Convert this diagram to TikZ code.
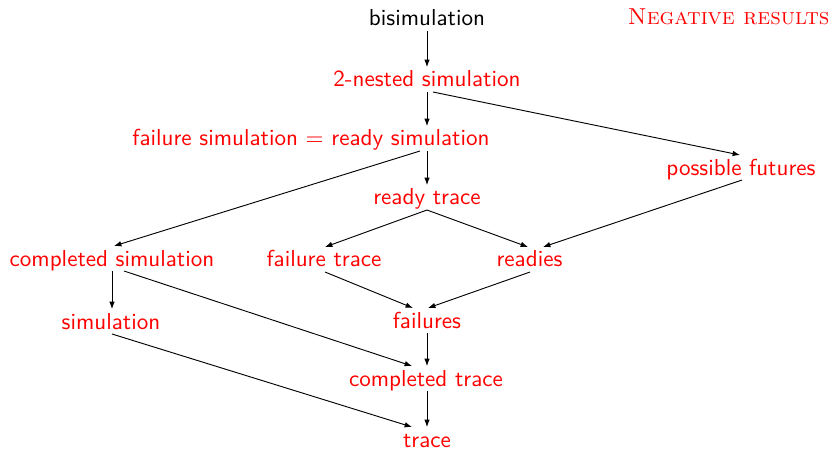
\documentclass[tikz,border=0pt]{standalone}
\usetikzlibrary{calc,arrows.meta}
\begin{document}
\begin{tikzpicture}[x=0.433pt,y=-0.433pt,
  lbl/.style={anchor=base,inner sep=0pt,outer sep=0pt,text height=8.66pt,text depth=2.17pt,font=\sffamily,text=red},
  arr/.style={-{Latex[length=3.2pt,width=2.4pt]},line width=0.4pt}]
\useasboundingbox (0,0) rectangle (832,450);
\node[lbl,text=black] (bis) at (427,26) {bisimulation};
\node[anchor=base east,inner sep=0pt,text=red] (neg) at (830,25) {\textsc{Negative results}};
\node[lbl] (nest) at (427,87) {2-nested simulation};
\node[lbl] (fs) at (311,146) {failure simulation $=$ ready simulation};
\node[lbl] (pf) at (741,175) {possible futures};
\node[lbl] (rt) at (427,205) {ready trace};
\node[lbl] (cs) at (112,266) {completed simulation};
\node[lbl] (ft) at (324,267) {failure trace};
\node[lbl] (rd) at (529.5,267) {readies};
\node[lbl] (sim) at (111,329) {simulation};
\node[lbl] (fl) at (427,328) {failures};
\node[lbl] (ct) at (426,386) {completed trace};
\node[lbl] (tr) at (427,447) {trace};

\draw[arr] (bis.south) -- (nest.north);
\draw[arr] (nest.south) -- ($(fs.north)+(116,0)$);
\draw[arr] ($(nest.south)+(6,0)$) -- ($(pf.north)+(-1,0)$);
\draw[arr] ($(fs.south)+(116,0)$) -- (rt.north);
\draw[arr] ($(fs.south)+(109,0)$) -- ($(cs.north)+(2,0)$);
\draw[arr] (rt.south) -- ($(ft.north)+(1,0)$);
\draw[arr] (rt.south) -- ($(rd.north)+(-1.5,0)$);
\draw[arr] ($(pf.south)+(1,0)$) -- ($(rd.north)+(13.5,0)$);
\draw[arr] (cs.south) -- (cs.south |- sim.north);
\draw[arr] ($(cs.south)+(12,0)$) -- ($(ct.north)+(-14,0)$);
\draw[arr] ($(ft.south)+(1,0)$) -- ($(fl.north)+(-14,0)$);
\draw[arr] ($(rd.south)+(0.5,0)$) -- ($(fl.north)+(1,0)$);
\draw[arr] (fl.south) -- (fl.south |- ct.north);
\draw[arr] ($(sim.south)+(1,0)$) -- ($(tr.north)+(-15,0)$);
\draw[arr] (ct.south -| tr.north) -- (tr.north);
\end{tikzpicture}
\end{document}
